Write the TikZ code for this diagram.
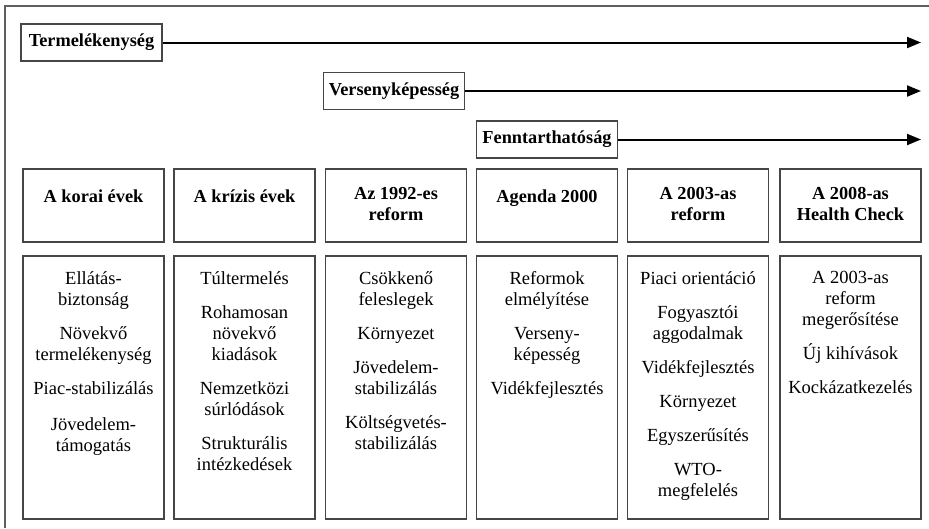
\documentclass[tikz,border=0pt]{standalone}
\usepackage{fontspec}
\setmainfont{Liberation Serif}
\usepackage{tikz}
\usetikzlibrary{arrows.meta, positioning}
\definecolor{framegray}{RGB}{95, 95, 95}
\definecolor{boxgray}{RGB}{70, 70, 70}

\begin{document}
\begin{tikzpicture}[x=1pt, y=-1pt,
    trend/.style={rectangle, draw=boxgray, line width=1.3pt, minimum width=141pt, minimum height=37pt, inner sep=0pt, font=\fontsize{18.3}{21}\selectfont\bfseries},
    colbox/.style={rectangle, draw=boxgray, line width=1.3pt, minimum width=141pt, inner sep=0pt},
    head/.style={colbox, minimum height=73pt},
    body/.style={colbox, minimum height=263pt},
    title/.style={align=center, inner sep=0pt, font=\fontsize{18.3}{21}\selectfont\bfseries, execute at begin node=\strut},
    items/.style={align=center, inner sep=0pt, font=\fontsize{18.5}{21}\selectfont, execute at begin node=\strut},
    arrow/.style={line width=2pt, -{Triangle[length=14pt, width=11pt]}, color=black}
]
    \useasboundingbox (0,0) rectangle (929,528);
    \draw[framegray, line width=1.3pt] (5,528) -- (5,6) -- (929,6);

    % trends
    \node[trend] (prod) at (91.5, 42.5) {Termelékenység};
    \node[trend] (comp) at (394, 91) {Versenyképesség};
    \node[trend] (sust) at (547, 139.5) {Fenntarthatóság};
    \coordinate (prodend) at (921, 42.5);
    \coordinate (compend) at (921, 91);
    \coordinate (sustend) at (921, 139.5);
    \draw[arrow] (prod) -- (prodend);
    \draw[arrow] (comp) -- (compend);
    \draw[arrow] (sust) -- (sustend);

    % periods
    \node[head] (h1) at (93.5, 205.5) {};
    \node[head] (h2) at (244.5, 205.5) {};
    \node[head] (h3) at (396, 205.5) {};
    \node[head] (h4) at (547, 205.5) {};
    \node[head] (h5) at (698, 205.5) {};
    \node[head] (h6) at (850.5, 205.5) {};
    \node[title, below=19pt of h1.north] (t1) {A korai évek};
    \node[title, below=19pt of h2.north] (t2) {A krízis évek};
    \node[title, below=19pt of h3.north] (t3) {Az 1992-es\\reform};
    \node[title, below=19pt of h4.north] (t4) {Agenda 2000};
    \node[title, below=19pt of h5.north] (t5) {A 2003-as\\reform};
    \node[title, below=19pt of h6.north] (t6) {A 2008-as\\Health Check};

    % contents
    \node[body] (b1) at (93.5, 387.5) {};
    \node[body] (b2) at (244.5, 387.5) {};
    \node[body] (b3) at (396, 387.5) {};
    \node[body] (b4) at (547, 387.5) {};
    \node[body] (b5) at (698, 387.5) {};
    \node[body] (b6) at (850.5, 387.5) {};
    \node[items, below=16pt of b1.north] (i1) {Ellátás-\\biztonság\\[13pt]Növekvő\\termelékenység\\[13pt]Piac-stabilizálás\\[15pt]Jövedelem-\\támogatás};
    \node[items, below=16pt of b2.north] (i2) {Túltermelés\\[13pt]Rohamosan\\növekvő\\kiadások\\[13pt]Nemzetközi\\súrlódások\\[13pt]Strukturális\\intézkedések};
    \node[items, below=16pt of b3.north] (i3) {Csökkenő\\feleslegek\\[13pt]Környezet\\[13pt]Jövedelem-\\stabilizálás\\[13pt]Költségvetés-\\stabilizálás};
    \node[items, below=16pt of b4.north] (i4) {Reformok\\elmélyítése\\[13pt]Verseny-\\képesség\\[13pt]Vidékfejlesztés};
    \node[items, below=16pt of b5.north] (i5) {Piaci orientáció\\[13pt]Fogyasztói\\aggodalmak\\[13pt]Vidékfejlesztés\\[13pt]Környezet\\[13pt]Egyszerűsítés\\[13pt]WTO-\\megfelelés};
    \node[items, below=16pt of b6.north] (i6) {A 2003-as\\reform\\megerősítése\\[13pt]Új kihívások\\[13pt]Kockázatkezelés};
\end{tikzpicture}
\end{document}
